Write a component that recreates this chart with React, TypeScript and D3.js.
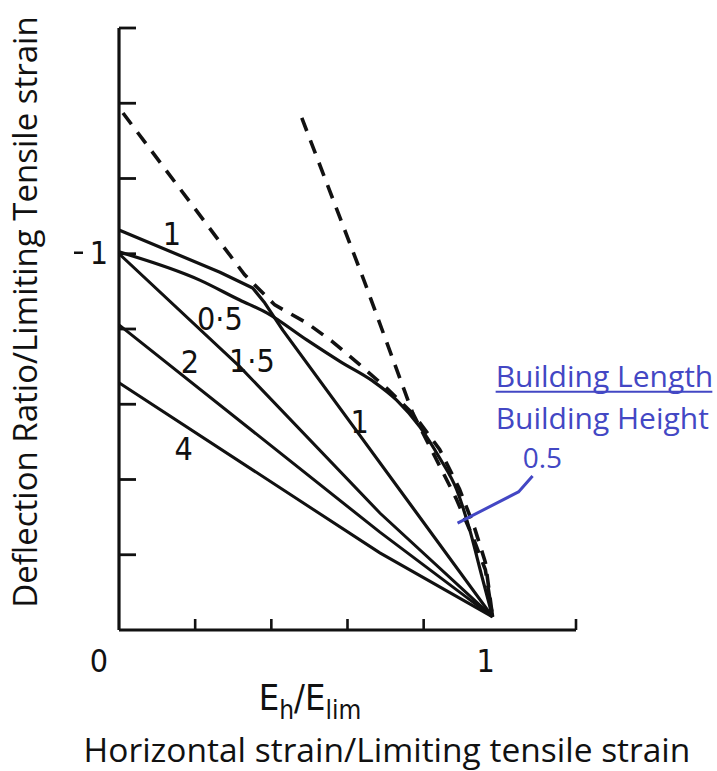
import React from "react";
import * as d3 from "d3";

// ---- data (x = Eh/Elim, y = deflection ratio / limiting tensile strain) ----
const xTicks = [0.2, 0.4, 0.6, 0.8, 1.2];
const yTicks = [0.2, 0.4, 0.6, 0.8, 1.0, 1.2, 1.4, 1.6];

const curveLH05: [number, number][] = [
  [0, 1.005], [0.212, 0.93], [0.317, 0.877], [0.388, 0.843], [0.493, 0.771],
  [0.58, 0.714], [0.666, 0.662], [0.729, 0.611], [0.79, 0.54], [0.842, 0.457],
  [0.887, 0.372], [0.921, 0.266], [0.952, 0.146], [0.981, 0.035],
];
const curveLH1: [number, number][] = [
  [0, 1.063], [0.265, 0.951], [0.351, 0.909], [0.383, 0.869], [0.43, 0.797],
  [0.632, 0.518], [0.981, 0.035],
];
const curveLH15: [number, number][] = [[0, 1.0], [0.317, 0.7], [0.685, 0.311], [0.981, 0.035]];
const curveLH2: [number, number][] = [[0, 0.811], [0.685, 0.26], [0.981, 0.035]];
const curveLH4: [number, number][] = [[0, 0.657], [0.685, 0.205], [0.981, 0.035]];

const dashedA: [number, number][] = [
  [0.0105, 1.374], [0.33, 0.944], [0.409, 0.864], [0.493, 0.816], [0.561, 0.766],
  [0.632, 0.705], [0.706, 0.64], [0.776, 0.57], [0.842, 0.48], [0.894, 0.375],
  [0.934, 0.27], [0.962, 0.18], [0.981, 0.035],
];
const dashedB: [number, number][] = [
  [0.48, 1.361], [0.643, 0.93], [0.771, 0.577], [0.83, 0.46], [0.885, 0.35],
  [0.93, 0.245], [0.962, 0.16], [0.981, 0.035],
];

const curveLabels = ["1", "0·5", "1·5", "2", "4", "1"];
const curveLabelX = [0.139, 0.265, 0.349, 0.186, 0.17, 0.632];
const curveLabelY = [1.023, 0.797, 0.686, 0.683, 0.452, 0.524];

const annotationLines = ["Building Length", "Building Height", "0.5"];
const annotationX = [0.989, 0.989, 1.06];
const annotationY = [0.646, 0.535, 0.43];
const annotationSize = [30, 30, 28];
const annotationArrow: [number, number][] = [[1.086, 0.409], [1.049, 0.367], [0.889, 0.284]];
const underline: [number, number][] = [[0.989, 0.633], [1.558, 0.633]];

const xLabel = "Horizontal strain/Limiting tensile strain";
const yLabel = "Deflection Ratio/Limiting Tensile strain";

export default function App() {
  const W = 717, H = 771;
  const x = d3.scaleLinear().domain([0, 1.2]).range([119, 576]);
  const y = d3.scaleLinear().domain([0, 1.6]).range([630, 28]);

  const lin = d3.line<[number, number]>().x(d => x(d[0])).y(d => y(d[1])).curve(d3.curveLinear);
  const smooth = d3.line<[number, number]>().x(d => x(d[0])).y(d => y(d[1])).curve(d3.curveMonotoneX);

  const digitFont = "'Liberation Sans Narrow', 'DejaVu Sans Condensed', sans-serif";
  const labelFont = "'Open Sans', 'Noto Sans', sans-serif";
  const blue = "#4347c4";
  const ink = "#111";

  return (
    <svg width={W} height={H} style={{ position: "absolute", left: 0, top: 0 }}>
      <rect width={W} height={H} fill="#fff" />

      {/* axes */}
      <line x1={x(0)} x2={x(0)} y1={y(0)} y2={y(1.6)} stroke={ink} strokeWidth={3.2} />
      <line x1={x(0)} x2={x(1.2)} y1={y(0)} y2={y(0)} stroke={ink} strokeWidth={3.2} />
      {yTicks.map(t => (
        <line key={"yt" + t} x1={x(0)} x2={x(0) + 17} y1={y(t)} y2={y(t)} stroke={ink} strokeWidth={2.8} />
      ))}
      {xTicks.map(t => (
        <line key={"xt" + t} x1={x(t)} x2={x(t)} y1={y(0)} y2={y(0) - 11} stroke={ink} strokeWidth={2.6} />
      ))}

      {/* tick labels */}
      <text x={x(0) - 11} y={y(0) + 42} fontFamily={digitFont} fontSize={32} textAnchor="end" fill={ink}>0</text>
      <text x={x(1) - 5} y={y(0) + 42} fontFamily={digitFont} fontSize={32} textAnchor="end" fill={ink}>1</text>
      <text x={x(0) - 11} y={y(1) + 10} fontFamily={digitFont} fontSize={32} textAnchor="end" fill={ink}>1</text>
      <line x1={x(0) - 45} x2={x(0) - 36} y1={y(1) - 1} y2={y(1) - 1} stroke={ink} strokeWidth={2.5} />

      {/* solid curves */}
      <path d={smooth(curveLH05) || ""} fill="none" stroke={ink} strokeWidth={3.2} />
      <path d={lin(curveLH1) || ""} fill="none" stroke={ink} strokeWidth={3.2} strokeLinejoin="round" />
      <path d={lin(curveLH15) || ""} fill="none" stroke={ink} strokeWidth={3} />
      <path d={lin(curveLH2) || ""} fill="none" stroke={ink} strokeWidth={3} />
      <path d={lin(curveLH4) || ""} fill="none" stroke={ink} strokeWidth={3} />

      {/* dashed curves */}
      <path d={lin(dashedA) || ""} fill="none" stroke={ink} strokeWidth={3.6} strokeDasharray="14 10" />
      <path d={lin(dashedB) || ""} fill="none" stroke={ink} strokeWidth={3.6} strokeDasharray="14 10" />

      {/* curve labels */}
      {curveLabels.map((t, i) => (
        <text key={"cl" + i} x={x(curveLabelX[i])} y={y(curveLabelY[i])} fontFamily={digitFont}
          fontSize={32} textAnchor="middle" fill={ink}>{t}</text>
      ))}

      {/* Eh/Elim */}
      <text x={310} y={y(0) + 80} fontFamily={digitFont} fontSize={36} textAnchor="middle" fill={ink}>
        E<tspan fontSize={26} dy={9}>h</tspan><tspan dy={-9}>/E</tspan><tspan fontSize={26} dy={9}>lim</tspan>
      </text>

      {/* axis titles */}
      <text x={387} y={762} fontFamily={labelFont} fontSize={33.5} textAnchor="middle" fill={ink}>{xLabel}</text>
      <text transform={`translate(37,${312}) rotate(-90)`} fontFamily={labelFont} fontSize={33}
        textAnchor="middle" fill={ink}>{yLabel}</text>

      {/* annotation */}
      {annotationLines.map((t, i) => (
        <text key={"an" + i} x={x(annotationX[i])} y={y(annotationY[i])} fontFamily={labelFont}
          fontSize={annotationSize[i]} fill={blue}>{t}</text>
      ))}
      <path d={lin(underline) || ""} stroke={blue} strokeWidth={2} fill="none" />
      <path d={lin(annotationArrow) || ""} stroke={blue} strokeWidth={3} fill="none" strokeLinejoin="round" />
    </svg>
  );
}
